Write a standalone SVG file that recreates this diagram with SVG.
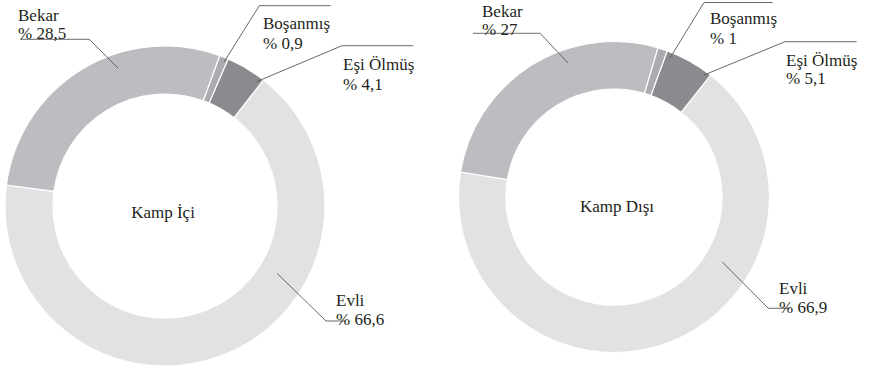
<svg xmlns="http://www.w3.org/2000/svg" width="870" height="370" viewBox="0 0 870 370">
<style>
.seg{stroke:#ffffff;stroke-width:1.2}
.evli{fill:#e1e2e3}
.bekar{fill:#bcbdc0}
.bos{fill:#a9abae}
.esi{fill:#8a8b8e}
.lead{fill:none;stroke:#58595b;stroke-width:0.9}
</style>
<rect width="870" height="370" fill="#ffffff"/>
<g id="kamp-ici">
  <g id="ki-evli"><path class="seg evli" d="M 263.51 79.92 A 160 160 0 1 1 6.38 185.06 L 53.96 191.34 A 112 112 0 1 0 233.95 117.74 Z"/></g>
  <g id="ki-bekar"><path class="seg bekar" d="M 6.38 185.06 A 160 160 0 0 1 219.78 55.67 L 203.34 100.77 A 112 112 0 0 0 53.96 191.34 Z"/></g>
  <g id="ki-bosanmis"><path class="seg bos" d="M 219.78 55.67 A 160 160 0 0 1 228.18 59.01 L 209.23 103.10 A 112 112 0 0 0 203.34 100.77 Z"/></g>
  <g id="ki-esi"><path class="seg esi" d="M 228.18 59.01 A 160 160 0 0 1 263.51 79.92 L 233.95 117.74 A 112 112 0 0 0 209.23 103.10 Z"/></g>
  <text x="163" y="218" font-family="'Liberation Serif', 'DejaVu Serif', serif" font-size="17" fill="#231f20" text-anchor="middle">Kamp İçi</text>
</g>
<g id="kamp-disi">
  <g id="kd-evli"><path class="seg evli" d="M 710.59 75.14 A 155.5 155.5 0 1 1 460.52 172.03 L 507.40 179.66 A 108 108 0 1 0 681.08 112.36 Z"/></g>
  <g id="kd-bekar"><path class="seg bekar" d="M 460.52 172.03 A 155.5 155.5 0 0 1 658.01 47.86 L 644.56 93.42 A 108 108 0 0 0 507.40 179.66 Z"/></g>
  <g id="kd-bosanmis"><path class="seg bos" d="M 658.01 47.86 A 155.5 155.5 0 0 1 667.29 50.92 L 651.01 95.54 A 108 108 0 0 0 644.56 93.42 Z"/></g>
  <g id="kd-esi"><path class="seg esi" d="M 667.29 50.92 A 155.5 155.5 0 0 1 710.59 75.14 L 681.08 112.36 A 108 108 0 0 0 651.01 95.54 Z"/></g>
  <text x="617" y="212" font-family="'Liberation Serif', 'DejaVu Serif', serif" font-size="17" fill="#231f20" text-anchor="middle">Kamp Dışı</text>
</g>
<g id="connectors">
  <polyline class="lead" points="20,39.3 89.3,39.3 118.3,68.3"/>
  <polyline class="lead" points="330.7,5.7 259.3,5.7 224,62"/>
  <polyline class="lead" points="413.3,45.7 342,45.7 256.5,81.7"/>
  <polyline class="lead" points="277,273.3 326,321 345,321"/>
  <polyline class="lead" points="473,33.3 540,33.3 568,63"/>
  <polyline class="lead" points="772.7,2.5 704,2.5 670,58"/>
  <polyline class="lead" points="856.7,41.7 785,41.7 704,75"/>
  <polyline class="lead" points="722,261.7 768.3,308.3 790,308.3"/>
</g>
<g id="labels" font-family="'Liberation Serif', 'DejaVu Serif', serif" font-size="17" fill="#231f20">
  <text x="18" y="21">Bekar</text>
  <text x="18" y="38.5">% 28,5</text>
  <text x="263" y="28.5">Boşanmış</text>
  <text x="263" y="48.5">% 0,9</text>
  <text x="343" y="70">Eşi Ölmüş</text>
  <text x="343" y="90">% 4,1</text>
  <text x="336" y="306">Evli</text>
  <text x="336" y="325">% 66,6</text>
  <text x="482" y="17">Bekar</text>
  <text x="482" y="35">% 27</text>
  <text x="710" y="23.5">Boşanmış</text>
  <text x="710" y="43.5">% 1</text>
  <text x="786" y="65.5">Eşi Ölmüş</text>
  <text x="786" y="83.5">% 5,1</text>
  <text x="779" y="294">Evli</text>
  <text x="779" y="312.5">% 66,9</text>
</g>
</svg>
